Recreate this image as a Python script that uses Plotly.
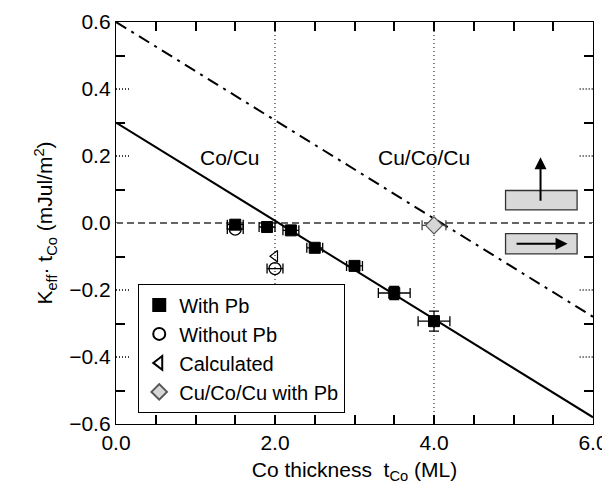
import plotly.graph_objects as go

# With Pb (filled squares)
pb_x = [1.5, 1.9, 2.2, 2.5, 3.0, 3.5, 4.0]
pb_y = [-0.005, -0.012, -0.022, -0.074, -0.128, -0.209, -0.293]
pb_ex = [0.1, 0.1, 0.1, 0.1, 0.1, 0.2, 0.2]
pb_ey = [0.012, 0.012, 0.012, 0.012, 0.012, 0.02, 0.03]

# Without Pb (open circles)
nopb_x = [1.5, 2.0]
nopb_y = [-0.018, -0.136]
nopb_ex = [0.1, 0.1]

# Calculated (open left triangle)
calc_x = [2.0]
calc_y = [-0.099]

# Cu/Co/Cu with Pb (gray diamond)
ccc_x = [4.0]
ccc_y = [-0.007]
ccc_ex = [0.15]

# Lines
fit_x = [0.0, 6.0]
fit_solid_y = [0.30, -0.58]
fit_dashdot_y = [0.60, -0.28]

FONT = "Liberation Sans, Arial, Helvetica, sans-serif"

fig = go.Figure()

fig.add_trace(go.Scatter(x=fit_x, y=fit_solid_y, mode="lines",
                         line=dict(color="black", width=2), showlegend=False, hoverinfo="skip"))
fig.add_trace(go.Scatter(x=fit_x, y=fit_dashdot_y, mode="lines",
                         line=dict(color="black", width=2, dash="12px,6px,3px,6px"),
                         showlegend=False, hoverinfo="skip"))

fig.add_trace(go.Scatter(
    x=pb_x, y=pb_y, mode="markers", name="With Pb",
    marker=dict(symbol="square", size=11, color="black", line=dict(color="black", width=1)),
    error_x=dict(type="data", array=pb_ex, color="black", thickness=1.3, width=5),
    error_y=dict(type="data", array=pb_ey, color="black", thickness=1.3, width=5),
))
fig.add_trace(go.Scatter(
    x=nopb_x, y=nopb_y, mode="markers", name="Without Pb",
    marker=dict(symbol="circle-open", size=12, color="black", line=dict(color="black", width=1.3)),
    error_x=dict(type="data", array=nopb_ex, color="black", thickness=1.3, width=5),
))
fig.add_trace(go.Scatter(
    x=calc_x, y=calc_y, mode="markers", name="Calculated",
    marker=dict(symbol="triangle-left-open", size=10, color="black", line=dict(color="black", width=1.2)),
))
fig.add_trace(go.Scatter(
    x=ccc_x, y=ccc_y, mode="markers", name="Cu/Co/Cu with Pb",
    marker=dict(symbol="diamond", size=13, color="#d6d6d6", line=dict(color="#555555", width=1.2)),
    error_x=dict(type="data", array=ccc_ex, color="#444444", thickness=1.3, width=5),
))

shapes = []
shapes.append(dict(type="line", xref="x domain", yref="y", x0=0, x1=1, y0=0, y1=0,
                   line=dict(color="#333333", width=1.3, dash="7px,4px"), layer="below"))
for xv in [2.0, 4.0]:
    shapes.append(dict(type="line", xref="x", yref="y domain", x0=xv, x1=xv, y0=0, y1=1,
                       line=dict(color="black", width=1, dash="1px,3px"), layer="below"))
for yv in [-0.4, -0.2, 0.2, 0.4]:
    shapes.append(dict(type="line", xref="x domain", yref="y", x0=0, x1=0.028, y0=yv, y1=yv,
                       line=dict(color="black", width=1.3, dash="1px,2px")))
    shapes.append(dict(type="line", xref="x domain", yref="y", x0=0.972, x1=1, y0=yv, y1=yv,
                       line=dict(color="black", width=1.3, dash="1px,2px")))
shapes.append(dict(type="rect", xref="x", yref="y", x0=4.9, x1=5.8, y0=0.039, y1=0.097,
                   fillcolor="#d9d9d9", line=dict(color="#333333", width=1.3)))
shapes.append(dict(type="rect", xref="x", yref="y", x0=4.9, x1=5.8, y0=-0.092, y1=-0.032,
                   fillcolor="#d9d9d9", line=dict(color="#333333", width=1.3)))

annotations = [
    dict(x=1.43, y=0.196, xref="x", yref="y", text="Co/Cu", showarrow=False,
         font=dict(family=FONT, size=21, color="black")),
    dict(x=3.88, y=0.196, xref="x", yref="y", text="Cu/Co/Cu", showarrow=False,
         font=dict(family=FONT, size=21, color="black")),
    dict(x=5.34, y=0.196, ax=5.34, ay=0.062, xref="x", yref="y", axref="x", ayref="y",
         text="", showarrow=True, arrowhead=2, arrowsize=1.2, arrowwidth=2, arrowcolor="black"),
    dict(x=5.68, y=-0.062, ax=5.02, ay=-0.062, xref="x", yref="y", axref="x", ayref="y",
         text="", showarrow=True, arrowhead=2, arrowsize=1.2, arrowwidth=2, arrowcolor="black"),
]

fig.update_layout(
    width=610, height=487,
    margin=dict(l=108, r=25, t=14, b=71, autoexpand=False),
    plot_bgcolor="white", paper_bgcolor="white",
    font=dict(family=FONT, size=20, color="black"),
    shapes=shapes, annotations=annotations,
    legend=dict(x=0.046, y=0.348, xanchor="left", yanchor="top",
                bgcolor="white", bordercolor="black", borderwidth=1.3,
                font=dict(family=FONT, size=20, color="black"),
                itemsizing="constant", tracegroupgap=0),
    showlegend=True,
)

fig.update_xaxes(
    range=[0, 6], dtick=2, tickformat=".1f",
    ticks="inside", ticklen=9, tickwidth=1.5, tickcolor="black",
    minor=dict(dtick=0.5, ticks="inside", ticklen=9, tickwidth=1.5, tickcolor="black"),
    showline=True, linecolor="black", linewidth=1.3, mirror="ticks",
    showgrid=False, zeroline=False,
    tickfont=dict(family=FONT, size=21, color="black"),
    title=dict(text="Co thickness  t<sub>Co</sub> (ML)", font=dict(family=FONT, size=21, color="black"),
               standoff=8),
)
fig.update_yaxes(
    range=[-0.6, 0.6], dtick=0.2, tickformat=".1f",
    ticks="inside", ticklen=1, tickwidth=1, tickcolor="white",
    minor=dict(dtick=0.1, ticks="inside", ticklen=9, tickwidth=1.5, tickcolor="black"),
    showline=True, linecolor="black", linewidth=1.3, mirror="ticks",
    showgrid=False, zeroline=False,
    tickfont=dict(family=FONT, size=21, color="black"),
    title=dict(text="K<sub>eff</sub>· t<sub>Co</sub> (mJul/m<sup>2</sup>)",
               font=dict(family=FONT, size=21, color="black"), standoff=10),
)

fig.write_html("out.html")
